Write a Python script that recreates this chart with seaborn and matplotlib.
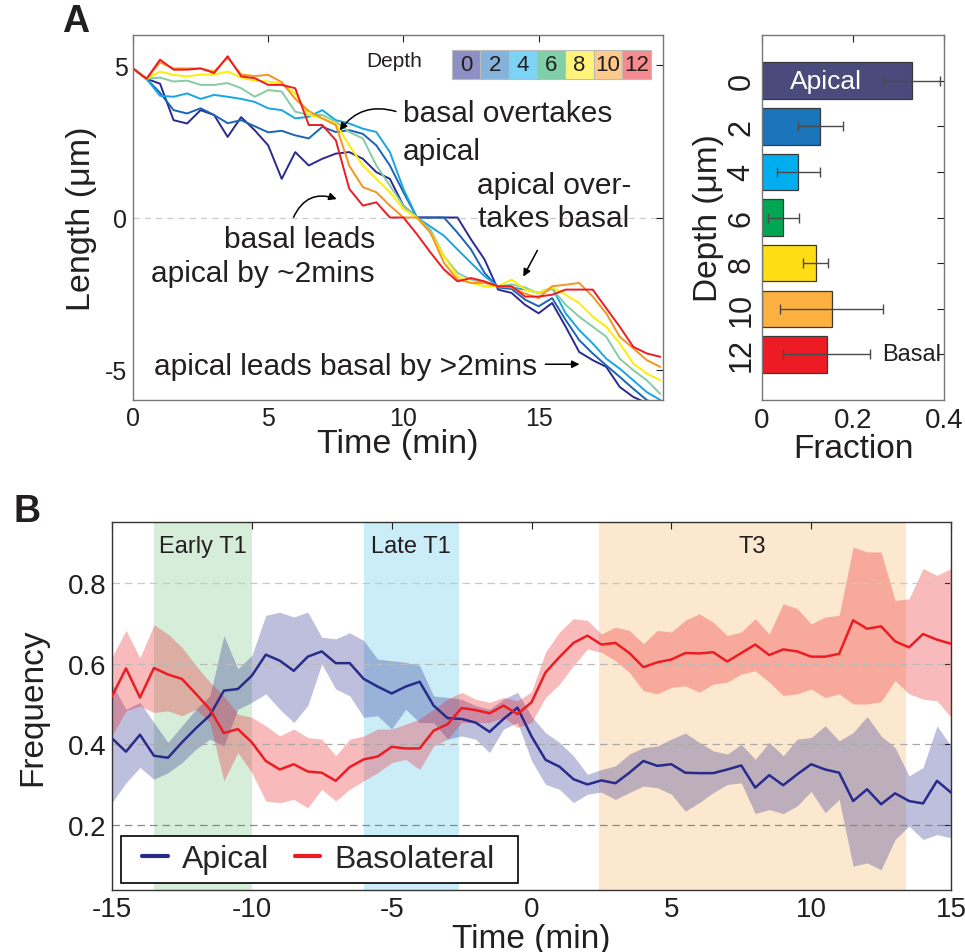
import numpy as np
import pandas as pd
import matplotlib
matplotlib.use("Agg")
import matplotlib.pyplot as plt
import seaborn as sns
from matplotlib.patches import Rectangle

sns.set_theme(style="white")
plt.rcParams["font.family"] = ["Liberation Sans", "DejaVu Sans"]
plt.rcParams["axes.unicode_minus"] = False

# ---------------- Panel A data: length traces per depth ----------------
time_a = [0, 0.5, 1, 1.5, 2, 2.5, 3, 3.5, 4, 4.5, 5, 5.5, 6, 6.5, 7, 7.5, 8, 8.5, 9, 9.5,
          10, 10.5, 11, 11.5, 12, 12.5, 13, 13.5, 14, 14.5, 15, 15.5, 16, 16.5, 17, 17.5, 18, 18.5, 19, 19.5]
depths = [0, 2, 4, 6, 8, 10, 12]
len_d0 = [4.9, 4.56, 4.4, 3.2, 3.09, 3.53, 3.37, 2.65, 3.3, 2.87, 2.37, 1.27, 2.15, 1.71, 1.93, 2.1, 2.15, 1.93, 1.49, 1.27,
          0.39, 0.0, 0.0, 0.0, 0.0, -0.72, -1.38, -2.37, -2.48, -2.87, -3.15, -2.81, -3.59, -4.42, -4.69, -4.91, -5.57, -5.9, -6.1, -6.3]
len_d2 = [4.9, 4.56, 4.1, 3.53, 3.42, 3.59, 3.37, 3.1, 3.2, 3.0, 2.8, 2.85, 2.7, 2.6, 2.98, 2.81, 2.87, 2.75, 2.37, 1.71,
          0.83, 0.0, 0.0, 0.0, -0.5, -1.05, -1.82, -2.3, -2.35, -2.7, -2.92, -2.65, -3.37, -4.03, -4.47, -4.86, -5.24, -5.63, -6.0, -6.2]
len_d4 = [4.9, 4.56, 4.0, 3.97, 4.08, 3.9, 4.03, 3.97, 3.9, 3.8, 3.59, 3.53, 3.26, 3.31, 3.53, 3.2, 3.09, 2.92, 2.81, 2.15,
          0.94, 0.0, -0.3, -0.6, -1.05, -1.49, -1.93, -2.26, -2.3, -2.37, -2.48, -2.3, -3.15, -3.7, -4.14, -4.64, -4.97, -5.35, -5.74, -6.0]
len_d6 = [4.9, 4.56, 4.6, 4.47, 4.5, 4.36, 4.36, 4.42, 4.25, 3.97, 4.19, 4.14, 3.48, 3.37, 3.37, 3.15, 2.81, 2.6, 1.71, 1.05,
          0.39, 0.0, -0.4, -1.27, -1.82, -2.04, -2.15, -2.26, -2.2, -2.3, -2.5, -2.35, -2.87, -3.26, -3.59, -3.92, -4.64, -5.02, -5.35, -5.8]
len_d8 = [4.9, 4.56, 4.8, 4.69, 4.64, 4.7, 4.7, 4.8, 4.6, 4.5, 4.47, 4.4, 4.08, 3.37, 3.26, 3.09, 2.37, 1.71, 1.27, 0.83,
          0.28, 0.0, -0.5, -1.27, -1.93, -2.15, -2.26, -2.26, -2.04, -2.37, -2.48, -2.3, -2.54, -2.81, -3.26, -3.59, -4.14, -4.8, -5.13, -5.35]
len_d10 = [4.9, 4.56, 5.1, 4.9, 4.9, 4.9, 4.8, 5.25, 4.7, 4.65, 4.69, 4.45, 3.9, 3.5, 3.26, 3.04, 1.7, 1.0, 0.83, 0.39,
           0.0, 0.0, -0.5, -1.49, -2.04, -2.15, -2.15, -2.26, -2.3, -2.5, -2.65, -2.26, -2.21, -2.15, -2.6, -3.15, -3.92, -4.3, -4.69, -4.91]
len_d12 = [4.9, 4.56, 5.19, 4.86, 4.86, 4.9, 4.75, 5.3, 4.64, 4.58, 4.36, 4.36, 4.25, 3.04, 3.04, 2.54, 0.94, 0.39, 0.5, 0.0,
           0.0, -0.55, -1.15, -1.71, -2.1, -1.99, -2.1, -2.26, -2.26, -2.6, -2.6, -2.54, -2.37, -2.37, -2.37, -2.98, -3.59, -4.25, -4.47, -4.58]
trace_colors = ["#2B2A8E", "#1A64B4", "#16A6E6", "#85CBA5", "#FFEE00", "#F7941D", "#ED1C24"]
legend_colors = ["#8E8FC4", "#86B3DC", "#7DD3F5", "#7FCFA8", "#FFF37A", "#FDC98C", "#F68B8F"]

# ---------------- Panel A bar data ----------------
bar_labels = ["0", "2", "4", "6", "8", "10", "12"]
fraction = [0.330, 0.128, 0.080, 0.047, 0.118, 0.153, 0.142]
fraction_err = [0.061, 0.049, 0.048, 0.034, 0.028, 0.114, 0.096]
bar_colors = ["#4B4A7C", "#1B75BB", "#00AEEF", "#00A651", "#FFDD15", "#FBB040", "#ED1C24"]

# ---------------- Panel B data ----------------
time_b = [-15, -14.5, -14, -13.5, -13, -12.5, -12, -11.5, -11, -10.5, -10, -9.5, -9, -8.5, -8, -7.5, -7, -6.5, -6, -5.5,
          -5, -4.5, -4, -3.5, -3, -2.5, -2, -1.5, -1, -0.5, 0, 0.5, 1, 1.5, 2, 2.5, 3, 3.5, 4, 4.5,
          5, 5.5, 6, 6.5, 7, 7.5, 8, 8.5, 9, 9.5, 10, 10.5, 11, 11.5, 12, 12.5, 13, 13.5, 14, 14.5, 15]
apical_mean = [0.415, 0.382, 0.424, 0.372, 0.367, 0.405, 0.440, 0.472, 0.533, 0.537, 0.570, 0.622, 0.607, 0.582, 0.617, 0.630, 0.601, 0.601, 0.562, 0.543,
               0.526, 0.543, 0.555, 0.496, 0.465, 0.463, 0.454, 0.431, 0.463, 0.491, 0.420, 0.362, 0.345, 0.314, 0.301, 0.311, 0.304, 0.330, 0.359, 0.347,
               0.351, 0.330, 0.329, 0.329, 0.338, 0.348, 0.293, 0.324, 0.299, 0.326, 0.351, 0.338, 0.330, 0.260, 0.289, 0.252, 0.279, 0.260, 0.254, 0.310, 0.281]
apical_hi = [0.550, 0.487, 0.504, 0.454, 0.405, 0.446, 0.487, 0.520, 0.669, 0.587, 0.620, 0.719, 0.727, 0.715, 0.727, 0.665, 0.661, 0.676, 0.657, 0.611,
             0.607, 0.603, 0.595, 0.520, 0.516, 0.512, 0.496, 0.487, 0.512, 0.529, 0.470, 0.429, 0.405, 0.372, 0.326, 0.338, 0.347, 0.376, 0.392, 0.396,
             0.413, 0.428, 0.405, 0.384, 0.376, 0.400, 0.363, 0.405, 0.372, 0.413, 0.417, 0.446, 0.409, 0.429, 0.469, 0.421, 0.392, 0.322, 0.343, 0.446, 0.396]
apical_lo = [0.256, 0.305, 0.343, 0.314, 0.330, 0.355, 0.388, 0.413, 0.396, 0.487, 0.504, 0.525, 0.487, 0.454, 0.496, 0.599, 0.537, 0.520, 0.467, 0.471,
             0.438, 0.487, 0.454, 0.454, 0.413, 0.421, 0.413, 0.380, 0.438, 0.454, 0.360, 0.301, 0.289, 0.256, 0.277, 0.282, 0.264, 0.281, 0.297, 0.293,
             0.277, 0.235, 0.256, 0.281, 0.301, 0.305, 0.229, 0.239, 0.229, 0.248, 0.284, 0.231, 0.264, 0.099, 0.107, 0.090, 0.165, 0.198, 0.165, 0.177, 0.169]
baso_mean = [0.519, 0.588, 0.516, 0.589, 0.573, 0.562, 0.525, 0.487, 0.428, 0.438, 0.405, 0.359, 0.338, 0.351, 0.333, 0.330, 0.310, 0.344, 0.363, 0.370,
             0.394, 0.390, 0.390, 0.434, 0.450, 0.490, 0.485, 0.477, 0.496, 0.475, 0.504, 0.578, 0.616, 0.651, 0.669, 0.647, 0.651, 0.626, 0.591, 0.603,
             0.610, 0.626, 0.625, 0.628, 0.605, 0.626, 0.647, 0.621, 0.635, 0.630, 0.617, 0.617, 0.624, 0.707, 0.686, 0.692, 0.655, 0.640, 0.673, 0.659, 0.649]
baso_hi = [0.616, 0.682, 0.614, 0.696, 0.673, 0.640, 0.595, 0.554, 0.520, 0.475, 0.467, 0.446, 0.421, 0.438, 0.417, 0.413, 0.372, 0.413, 0.421, 0.438,
           0.438, 0.450, 0.463, 0.487, 0.512, 0.529, 0.512, 0.504, 0.516, 0.508, 0.530, 0.628, 0.678, 0.711, 0.707, 0.673, 0.690, 0.682, 0.649, 0.682,
           0.678, 0.707, 0.723, 0.702, 0.669, 0.678, 0.711, 0.673, 0.748, 0.736, 0.698, 0.715, 0.719, 0.888, 0.876, 0.876, 0.756, 0.760, 0.835, 0.818, 0.835]
baso_lo = [0.421, 0.483, 0.495, 0.479, 0.483, 0.471, 0.487, 0.454, 0.310, 0.380, 0.330, 0.260, 0.256, 0.264, 0.243, 0.289, 0.260, 0.289, 0.310, 0.330,
           0.355, 0.363, 0.338, 0.396, 0.413, 0.454, 0.454, 0.454, 0.467, 0.442, 0.454, 0.516, 0.549, 0.595, 0.636, 0.628, 0.607, 0.578, 0.533, 0.525,
           0.541, 0.545, 0.529, 0.549, 0.554, 0.574, 0.582, 0.554, 0.521, 0.525, 0.537, 0.516, 0.525, 0.500, 0.500, 0.506, 0.558, 0.525, 0.512, 0.508, 0.467]
phase_names = ["Early T1", "Late T1", "T3"]
phase_start = [-13.5, -6.0, 2.4]
phase_end = [-10.0, -2.6, 13.4]
phase_colors = ["#D5EDD9", "#CBEDF8", "#FCE7CF"]

APICAL_C = "#282B8C"
BASO_C = "#ED1C24"
TXT = "#231F20"

W, H = 965, 953
fig = plt.figure(figsize=(W / 100, H / 100), dpi=100)
def fx(x): return x / W
def fy(y): return 1 - y / H

axA = fig.add_axes([fx(133), fy(401), (663 - 133) / W, (401 - 36) / H])
axBar = fig.add_axes([fx(762), fy(401), (944 - 762) / W, (401 - 36) / H])
axB = fig.add_axes([fx(112), fy(891), (951 - 112) / W, (891 - 523) / H])

# ---------------- Panel A traces ----------------
traces = [len_d0, len_d2, len_d4, len_d6, len_d8, len_d10, len_d12]
dfA = pd.concat([pd.DataFrame({"time": time_a, "length": tr, "depth": d})
                 for d, tr in zip(depths, traces)], ignore_index=True)
axA.axhline(0, color="#CCCCCC", ls=(0, (5, 4)), lw=0.9, zorder=0)
sns.lineplot(data=dfA, x="time", y="length", hue="depth", hue_order=depths,
             palette=dict(zip(depths, trace_colors)), estimator=None, sort=False,
             lw=1.4, legend=False, ax=axA)
axA.set_xlim(0, 19.6)
axA.set_ylim(-6, 6)
axA.set_xticks([0, 5, 10, 15])
axA.set_yticks([-5, 0, 5])
axA.tick_params(direction="in", top=True, right=True, length=5, width=0.8,
                labelsize=18, colors=TXT, pad=4)
axA.set_xlabel("Time (min)", fontsize=24.5, color=TXT, labelpad=-1)
axA.set_ylabel("Length (μm)", fontsize=24.5, color=TXT, labelpad=6)
for s in axA.spines.values():
    s.set_color("#777777"); s.set_linewidth(1.0)

# depth legend
axA.text(0.493, 0.93, "Depth", transform=axA.transAxes, ha="center", va="center", fontsize=15, color=TXT)
cx0, cw, cy0, ch = 0.602, 0.0535, 0.879, 0.080
for i, (d, c) in enumerate(zip(depths, legend_colors)):
    axA.add_patch(Rectangle((cx0 + i * cw, cy0), cw, ch, transform=axA.transAxes,
                            facecolor=c, edgecolor="#BBBBBB", lw=0.8, zorder=5))
    axA.text(cx0 + (i + 0.5) * cw, cy0 + ch / 2, str(d), transform=axA.transAxes,
             ha="center", va="center", fontsize=16, color=TXT, zorder=6)

def pxA(x, y):
    return ((x - 134) / 26.95, (218.3 - y) / 30.2)

fs_ann = 21.5
for txt, x, y, ha in [("basal overtakes", 403, 115, "left"), ("apical", 403, 152, "left"),
                      ("apical over-", 477, 186, "left"), ("takes basal", 478, 219, "left"),
                      ("basal leads", 375, 240, "right"), ("apical by ~2mins", 375, 273, "right"),
                      ("apical leads basal by >2mins", 155, 366, "left")]:
    axA.text(*pxA(x, y), txt, ha=ha, va="center", fontsize=fs_ann, color=TXT)

arrow_kw = dict(arrowstyle="-|>", color="#000000", lw=1.1, mutation_scale=11, shrinkA=0, shrinkB=0)
axA.annotate("", xy=pxA(340, 132), xytext=pxA(396, 113),
             arrowprops=dict(connectionstyle="arc3,rad=0.35", **arrow_kw))
axA.annotate("", xy=pxA(337, 200), xytext=pxA(294, 218),
             arrowprops=dict(connectionstyle="arc3,rad=-0.45", **arrow_kw))
axA.annotate("", xy=pxA(523, 277), xytext=pxA(537, 251), arrowprops=arrow_kw)
axA.annotate("", xy=pxA(579, 364), xytext=pxA(545, 364), arrowprops=arrow_kw)

# ---------------- Panel A bar chart ----------------
sns.barplot(x=fraction, y=bar_labels, hue=bar_labels, palette=bar_colors, orient="h",
            width=0.8, edgecolor="#3A3A3A", linewidth=0.9, legend=False, ax=axBar, saturation=1)
axBar.errorbar(fraction, np.arange(len(fraction)), xerr=fraction_err, fmt="none",
               ecolor="#4A4A4A", elinewidth=1.0, capsize=3.5, capthick=1.0, zorder=5)
axBar.set_xlim(0, 0.4)
axBar.set_ylim(7, -1)
axBar.set_xticks([0, 0.2, 0.4])
axBar.set_xticklabels(["0", "0.2", "0.4"])
axBar.set_yticks(np.arange(len(bar_labels)))
axBar.set_yticklabels(bar_labels, rotation=90, va="center")
axBar.tick_params(direction="in", top=True, right=True, length=5, width=0.8, colors=TXT)
axBar.tick_params(axis="x", labelsize=20, pad=5)
axBar.tick_params(axis="y", labelsize=22, pad=4)
axBar.set_xlabel("Fraction", fontsize=24, color=TXT, labelpad=0)
axBar.set_ylabel("Depth (μm)", fontsize=24, color=TXT, labelpad=2)
for s in axBar.spines.values():
    s.set_color("#777777"); s.set_linewidth(1.0)
axBar.text(0.141, 0, "Apical", color="white", fontsize=19, ha="center", va="center", zorder=6)
axBar.text(0.328, 6, "Basal", color=TXT, fontsize=17, ha="center", va="center", zorder=6)

# ---------------- Panel B ----------------
for n, a, b, c in zip(phase_names, phase_start, phase_end, phase_colors):
    axB.axvspan(a, b, color=c, lw=0, zorder=0)
    axB.text((a + b) / 2, 0.89, n, ha="center", va="center", fontsize=17, color=TXT, zorder=6)
axB.fill_between(time_b, apical_lo, apical_hi, color=APICAL_C, alpha=0.3, lw=0, zorder=2)
axB.fill_between(time_b, baso_lo, baso_hi, color=BASO_C, alpha=0.3, lw=0, zorder=2)
for yv, gc in zip([0.2, 0.4, 0.6, 0.8], ["#888888", "#AAAAAA", "#BBBBBB", "#C8C8C8"]):
    axB.axhline(yv, color=gc, ls=(0, (6, 4)), lw=0.9, zorder=2.5)
dfB = pd.DataFrame({"time": time_b * 2,
                    "frequency": apical_mean + baso_mean,
                    "series": ["Apical"] * len(time_b) + ["Basolateral"] * len(time_b)})
sns.lineplot(data=dfB, x="time", y="frequency", hue="series",
             palette={"Apical": APICAL_C, "Basolateral": BASO_C}, lw=1.8, ax=axB, zorder=3)
axB.set_xlim(-15, 15)
axB.set_ylim(0.04, 0.95)
axB.set_xticks([-15, -10, -5, 0, 5, 10, 15])
axB.set_yticks([0.2, 0.4, 0.6, 0.8])
axB.set_yticklabels(["0.2", "0.4", "0.6", "0.8"])
axB.tick_params(direction="in", top=True, right=True, length=5, width=0.8,
                labelsize=20, colors=TXT, pad=4)
axB.set_xlabel("Time (min)", fontsize=24, color=TXT, labelpad=1)
axB.set_ylabel("Frequency", fontsize=24, color=TXT, labelpad=14)
for s in axB.spines.values():
    s.set_color("#333333"); s.set_linewidth(1.0)

# legend: frame drawn as a box, entries from the seaborn lines
axB.add_patch(Rectangle((0.0107, 0.019), 0.473, 0.128, transform=axB.transAxes,
                        facecolor="white", edgecolor="#000000", lw=1.2, zorder=9))
leg = axB.legend(loc="center left", bbox_to_anchor=(0.036, 0.084), borderaxespad=0, ncol=2,
                 fontsize=23, frameon=False, handlelength=0.8, handletextpad=0.45,
                 columnspacing=0.8, borderpad=0.0)
for line in leg.get_lines():
    line.set_linewidth(3)
leg.set_zorder(10)

fig.text(fx(75.5), fy(22.5), "A", fontsize=27, fontweight="bold", ha="center", va="center", color=TXT)
fig.text(fx(27.5), fy(512), "B", fontsize=27, fontweight="bold", ha="center", va="center", color=TXT)

fig.savefig("out.png", dpi=100)
